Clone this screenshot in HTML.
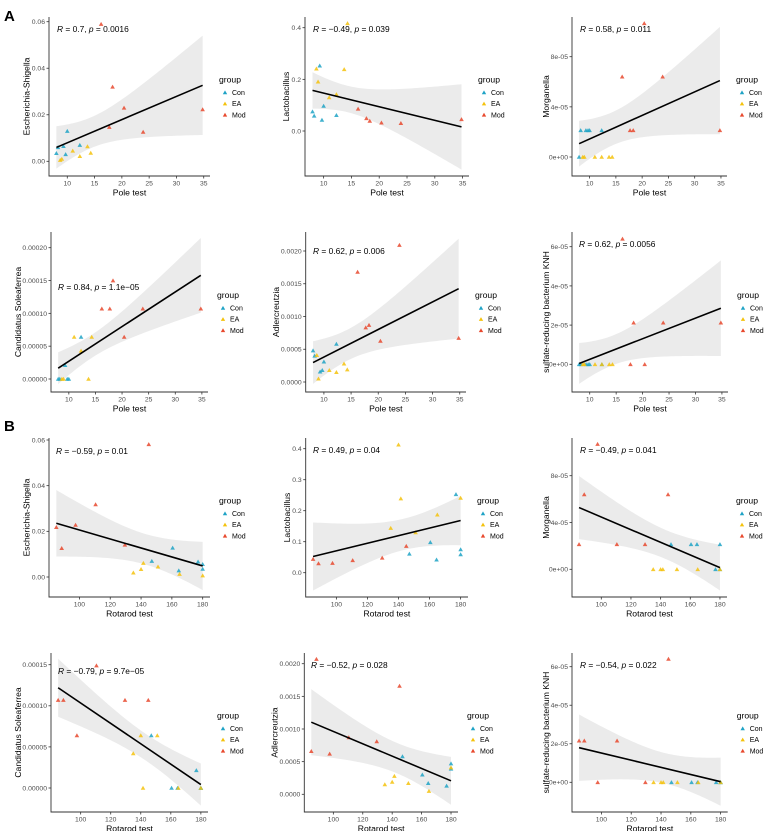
<!DOCTYPE html>
<html><head><meta charset="utf-8">
<style>
html,body{margin:0;padding:0;background:#fff;}
svg{display:block;font-family:"Liberation Sans",sans-serif;}
</style></head>
<body>
<svg id="fig" width="767" height="831" viewBox="0 0 767 831" xmlns="http://www.w3.org/2000/svg">
<text x="4" y="21" font-size="15" font-weight="bold">A</text>
<text x="4" y="431" font-size="15" font-weight="bold">B</text>
</svg>
<script>
// shared x values (behavioural tests)
const poleCon = [8.0, 8.3, 9.3, 9.7, 10.0, 12.3];
const poleEA  = [8.7, 9.0, 11.0, 12.3, 13.7, 14.3];
const poleMod = [16.2, 17.7, 18.3, 20.4, 23.9, 34.8];
const rotCon = [147, 160.5, 164.5, 177, 180, 180];
const rotEA  = [135, 140, 141.5, 151, 165, 180];
const rotMod = [85, 88.5, 97.5, 110.5, 129.5, 145];
const poleTicks = [10, 15, 20, 25, 30, 35];
const rotTicks = [100, 120, 140, 160, 180];

// y values per panel (Con, EA, Mod)
const a1Con = [0.0035, 0.006, 0.0065, 0.003, 0.013, 0.007];
const a1EA  = [0.0005, 0.001, 0.0045, 0.0022, 0.0064, 0.0036];
const a1Mod = [0.059, 0.0147, 0.032, 0.023, 0.0126, 0.0223];
const a2Con = [0.075, 0.059, 0.253, 0.043, 0.097, 0.061];
const a2EA  = [0.241, 0.191, 0.13, 0.142, 0.239, 0.417];
const a2Mod = [0.086, 0.049, 0.039, 0.032, 0.030, 0.045];
const a3Con = [0, 2.13e-5, 2.13e-5, 2.13e-5, 2.13e-5, 2.13e-5];
const a3EA  = [0, 0, 0, 0, 0, 0];
const a3Mod = [6.4e-5, 2.13e-5, 2.13e-5, 10.66e-5, 6.4e-5, 2.13e-5];
const a4Con = [0, 0, 2.1e-5, 0, 0, 6.4e-5];
const a4EA  = [0, 0, 6.4e-5, 4.3e-5, 0, 6.4e-5];
const a4Mod = [1.07e-4, 1.07e-4, 1.50e-4, 6.4e-5, 1.07e-4, 1.07e-4];
const a5Con = [0.00048, 0.0004, 0.000157, 0.00018, 0.00031, 0.00058];
const a5EA  = [0.00041, 0.00005, 0.00018, 0.00015, 0.00028, 0.00019];
const a5Mod = [0.00168, 0.00083, 0.00087, 0.000626, 0.00209, 0.00067];
const a6Con = [0, 0, 0, 0, 0, 0];
const a6EA  = [0, 0, 0, 0, 0, 0];
const a6Mod = [6.4e-5, 0, 2.12e-5, 0, 2.12e-5, 2.12e-5];
const b1Con = [0.007, 0.0128, 0.0028, 0.0067, 0.0056, 0.0035];
const b1EA  = [0.0019, 0.0034, 0.0061, 0.0045, 0.0013, 0.0006];
const b1Mod = [0.0218, 0.0126, 0.0228, 0.0318, 0.0141, 0.0581];
const b2Con = [0.061, 0.098, 0.042, 0.253, 0.075, 0.059];
const b2EA  = [0.144, 0.413, 0.239, 0.13, 0.187, 0.241];
const b2Mod = [0.044, 0.030, 0.031, 0.040, 0.048, 0.086];
const b3Con = [2.13e-5, 2.13e-5, 2.13e-5, 0, 2.13e-5, 0];
const b3EA  = [0, 0, 0, 0, 0, 0];
const b3Mod = [2.13e-5, 6.4e-5, 10.7e-5, 2.13e-5, 2.13e-5, 6.4e-5];
const b4Con = [6.4e-5, 0, 0, 2.15e-5, 0, 0];
const b4EA  = [4.2e-5, 6.4e-5, 0, 6.4e-5, 0, 0];
const b4Mod = [1.07e-4, 1.07e-4, 6.4e-5, 1.49e-4, 1.07e-4, 1.07e-4];
const b5Con = [0.00058, 0.0003, 0.00017, 0.00013, 0.00047, 0.00039];
const b5EA  = [0.00015, 0.00019, 0.00028, 0.00017, 0.00005, 0.00041];
const b5Mod = [0.00066, 0.00207, 0.00062, 0.00087, 0.00081, 0.00166];
const b6Con = [0, 0, 0, 0, 0, 0];
const b6EA  = [0, 0, 0, 0, 0, 0];
const b6Mod = [2.16e-5, 2.16e-5, 0, 2.16e-5, 0, 6.4e-5];

const NS = 'http://www.w3.org/2000/svg';
const svg = document.getElementById('fig');
const COLORS = {Con:'#1fa3c6', EA:'#f4c20d', Mod:'#e8492e'};
function mk(tag, attrs, parent){ const e=document.createElementNS(NS,tag); for(const k in attrs) e.setAttribute(k,attrs[k]); (parent||svg).appendChild(e); return e; }

const panels = [
 {id:'a1',L:49,R:210,T:17,B:176,p0:161.3,p1:21.7,v0:0,v1:0.06,ticks:[0,0.02,0.04,0.06],lab:['0.00','0.02','0.04','0.06'],yt:'Escherichia-Shigella',test:'pole',ys:[a1Con,a1EA,a1Mod],txt:'0.7',p:'0.0016',tx:57,ty:29},
 {id:'a2',L:305,R:469,T:17,B:176,p0:131,p1:27.7,v0:0,v1:0.4,ticks:[0,0.2,0.4],lab:['0.0','0.2','0.4'],yt:'Lactobacillus',test:'pole',ys:[a2Con,a2EA,a2Mod],txt:'\u22120.49',p:'0.039',tx:313,ty:29},
 {id:'a3',L:572,R:727,T:17,B:176,p0:157,p1:56.7,v0:0,v1:8e-5,ticks:[0,4e-5,8e-5],lab:['0e+00','4e-05','8e-05'],yt:'Morganella',test:'pole',ys:[a3Con,a3EA,a3Mod],txt:'0.58',p:'0.011',tx:580,ty:29},
 {id:'a4',L:51,R:208,T:232,B:392,p0:379,p1:247.7,v0:0,v1:2e-4,ticks:[0,5e-5,1e-4,1.5e-4,2e-4],lab:['0.00000','0.00005','0.00010','0.00015','0.00020'],yt:'Candidatus Soleaferrea',test:'pole',ys:[a4Con,a4EA,a4Mod],txt:'0.84',p:'1.1e\u221205',tx:58,ty:287},
 {id:'a5',L:305.7,R:466,T:232,B:392,p0:382,p1:251,v0:0,v1:0.002,ticks:[0,0.0005,0.001,0.0015,0.002],lab:['0.0000','0.0005','0.0010','0.0015','0.0020'],yt:'Adlercreutzia',test:'pole',ys:[a5Con,a5EA,a5Mod],txt:'0.62',p:'0.006',tx:313,ty:251},
 {id:'a6',L:572,R:728,T:232,B:392,p0:364.3,p1:246.7,v0:0,v1:6e-5,ticks:[0,2e-5,4e-5,6e-5],lab:['0e+00','2e-05','4e-05','6e-05'],yt:'sulfate-reducing bacterium KNH',test:'pole',ys:[a6Con,a6EA,a6Mod],txt:'0.62',p:'0.0056',tx:579,ty:244},
 {id:'b1',L:49,R:210,T:438,B:597,p0:577,p1:440,v0:0,v1:0.06,ticks:[0,0.02,0.04,0.06],lab:['0.00','0.02','0.04','0.06'],yt:'Escherichia-Shigella',test:'rot',ys:[b1Con,b1EA,b1Mod],txt:'\u22120.59',p:'0.01',tx:56,ty:451},
 {id:'b2',L:305.7,R:468,T:438,B:597,p0:572.7,p1:448.7,v0:0,v1:0.4,ticks:[0,0.1,0.2,0.3,0.4],lab:['0.0','0.1','0.2','0.3','0.4'],yt:'Lactobacillus',test:'rot',ys:[b2Con,b2EA,b2Mod],txt:'0.49',p:'0.04',tx:313,ty:450},
 {id:'b3',L:572,R:727,T:438,B:597,p0:569.3,p1:475.7,v0:0,v1:8e-5,ticks:[0,4e-5,8e-5],lab:['0e+00','4e-05','8e-05'],yt:'Morganella',test:'rot',ys:[b3Con,b3EA,b3Mod],txt:'\u22120.49',p:'0.041',tx:580,ty:450},
 {id:'b4',L:51,R:208,T:653,B:812,p0:788,p1:664.7,v0:0,v1:1.5e-4,ticks:[0,5e-5,1e-4,1.5e-4],lab:['0.00000','0.00005','0.00010','0.00015'],yt:'Candidatus Soleaferrea',test:'rot',ys:[b4Con,b4EA,b4Mod],txt:'\u22120.79',p:'9.7e\u221205',tx:58,ty:671},
 {id:'b5',L:304.3,R:458,T:653,B:812,p0:794.3,p1:663.7,v0:0,v1:0.002,ticks:[0,0.0005,0.001,0.0015,0.002],lab:['0.0000','0.0005','0.0010','0.0015','0.0020'],yt:'Adlercreutzia',test:'rot',ys:[b5Con,b5EA,b5Mod],txt:'\u22120.52',p:'0.028',tx:311,ty:665},
 {id:'b6',L:572,R:727.7,T:653,B:812,p0:782.3,p1:666.7,v0:0,v1:6e-5,ticks:[0,2e-5,4e-5,6e-5],lab:['0e+00','2e-05','4e-05','6e-05'],yt:'sulfate-reducing bacterium KNH',test:'rot',ys:[b6Con,b6EA,b6Mod],txt:'\u22120.54',p:'0.022',tx:580,ty:665}
];

const groups = ['Con','EA','Mod'];
panels.forEach(P => {
  const xs = P.test==='pole' ? [poleCon,poleEA,poleMod] : [rotCon,rotEA,rotMod];
  const xd = P.test==='pole' ? [6.65,36.15] : [80.25,184.75];
  const xTicks = P.test==='pole' ? poleTicks : rotTicks;
  const sx = v => P.L + (v - xd[0])/(xd[1]-xd[0])*(P.R-P.L);
  const sy = v => P.p0 - (v - P.v0)/(P.v1-P.v0)*(P.p0-P.p1);
  const g = mk('g',{});
  
  
  const clip = mk('clipPath',{id:'clip-'+P.id}, g);
  mk('rect',{x:P.L,y:P.T,width:P.R-P.L,height:P.B-P.T}, clip);

  // regression
  const X=[],Y=[];
  xs.forEach((a,i)=>a.forEach((v,j)=>{X.push(v);Y.push(P.ys[i][j]);}));
  const n=X.length, mx=X.reduce((a,b)=>a+b)/n, my=Y.reduce((a,b)=>a+b)/n;
  let sxx=0,sxy=0; X.forEach((v,i)=>{sxx+=(v-mx)**2;sxy+=(v-mx)*(Y[i]-my);});
  const b=sxy/sxx, a=my-b*mx;
  let sse=0; X.forEach((v,i)=>{sse+=(Y[i]-a-b*v)**2;});
  const s=Math.sqrt(sse/(n-2)), t=2.12;
  const xmin=Math.min(...X), xmax=Math.max(...X);
  const up=[],lo=[];
  for(let k=0;k<=60;k++){ const x=xmin+(xmax-xmin)*k/60; const yh=a+b*x; const se=s*Math.sqrt(1/n+(x-mx)**2/sxx);
    up.push(sx(x).toFixed(2)+','+sy(yh+t*se).toFixed(2)); lo.unshift(sx(x).toFixed(2)+','+sy(yh-t*se).toFixed(2)); }
  const band = mk('polygon',{points:up.concat(lo).join(' '),fill:'#ebebeb','clip-path':'url(#clip-'+P.id+')'}, g);
  
  

  // points
  xs.forEach((arr,gi)=>arr.forEach((xv,j)=>{
    const cx=sx(xv), cy=sy(P.ys[gi][j]);
    const tri = mk('polygon',{points:`${cx-2.3},${cy+1.8} ${cx+2.3},${cy+1.8} ${cx},${cy-2.2}`,fill:COLORS[groups[gi]],'fill-opacity':0.85}, g);
    
    
  }));
  const line = mk('line',{x1:sx(xmin),y1:sy(a+b*xmin),x2:sx(xmax),y2:sy(a+b*xmax),stroke:'#000','stroke-width':1.6}, g);
  
  

  // axes
  const ax = mk('path',{d:`M${P.L},${P.T} V${P.B} H${P.R}`,fill:'none',stroke:'#333','stroke-width':0.9}, g);
  
  
  P.ticks.forEach((tv,i)=>{
    const y=sy(tv);
    mk('line',{x1:P.L-2.5,y1:y,x2:P.L,y2:y,stroke:'#333','stroke-width':0.8}, g);
    const tl = mk('text',{x:P.L-4,y:y+2.4,'font-size':6.8,fill:'#4d4d4d','text-anchor':'end'}, g);
    tl.textContent=P.lab[i];
    
    
  });
  xTicks.forEach(tv=>{
    const x=sx(tv);
    mk('line',{x1:x,y1:P.B,x2:x,y2:P.B+2.5,stroke:'#333','stroke-width':0.8}, g);
    const tl = mk('text',{x:x,y:P.B+9.5,'font-size':6.8,fill:'#4d4d4d','text-anchor':'middle'}, g);
    tl.textContent=tv;
    
    
  });
  const xt = mk('text',{x:(P.L+P.R)/2,y:P.B+19.5,'font-size':8.6,fill:'#000','text-anchor':'middle'}, g);
  xt.textContent = P.test==='pole' ? 'Pole test' : 'Rotarod test';
  
  
  const maxc = Math.max(...P.lab.map(l=>l.length));
  const ytx = P.L - (5 + maxc*3.6);
  const yc = (P.T+P.B)/2;
  const yt = mk('text',{x:ytx,y:yc,'font-size':8.6,fill:'#000','text-anchor':'middle',transform:`rotate(-90 ${ytx} ${yc})`}, g);
  yt.textContent=P.yt;
  
  

  // stat label
  const st = mk('text',{x:P.tx,y:P.ty+3,'font-size':8.4,fill:'#000'}, g);
  st.innerHTML = '<tspan font-style="italic">R</tspan> = '+P.txt+', <tspan font-style="italic">p</tspan> = '+P.p;
  
  

  // legend
  const lx = P.R + 9, ly = yc - 17;
  const lg = mk('g',{}, g);
  
  
  const lt = mk('text',{x:lx,y:ly+3,'font-size':8.6,fill:'#000'}, lg);
  lt.textContent='group';
  groups.forEach((gn,i)=>{
    const cy = ly + 13 + i*11.2, cx = lx + 6;
    const m = mk('polygon',{points:`${cx-2.2},${cy+1.7} ${cx+2.2},${cy+1.7} ${cx},${cy-2.1}`,fill:COLORS[gn]}, lg);
    
    
    const tx = mk('text',{x:lx+13,y:cy+2.5,'font-size':7,fill:'#000'}, lg);
    tx.textContent=gn;
    
    
  });
});
</script>
</body></html>
